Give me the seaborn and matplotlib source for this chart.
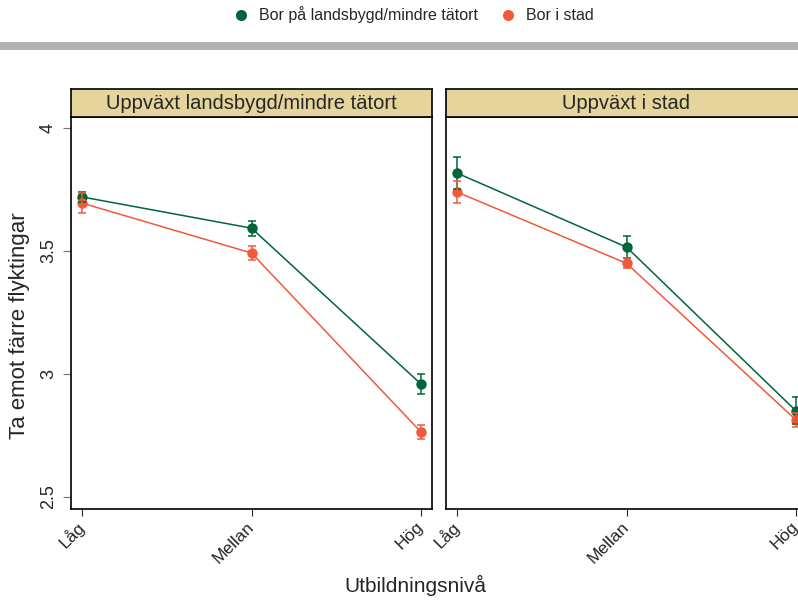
import matplotlib
matplotlib.use("Agg")
import matplotlib.pyplot as plt
import seaborn as sns
import pandas as pd
from matplotlib.patches import Rectangle
from matplotlib.lines import Line2D

# data
levels = ["Låg", "Mellan", "Hög"]
panels = ["Uppväxt landsbygd/mindre tätort", "Uppväxt i stad"]
groups = ["Bor på landsbygd/mindre tätort", "Bor i stad"]

rural_rural = [3.72, 3.593, 2.959]
rural_rural_err = [0.02, 0.03, 0.04]
rural_city = [3.695, 3.492, 2.764]
rural_city_err = [0.04, 0.03, 0.03]
city_rural = [3.817, 3.516, 2.85]
city_rural_err = [0.065, 0.045, 0.055]
city_city = [3.74, 3.45, 2.813]
city_city_err = [0.045, 0.02, 0.03]

colors = {"Bor på landsbygd/mindre tätort": "#00663a", "Bor i stad": "#f05a3a"}

rows = []
for panel, series in zip(panels, [[(rural_rural, rural_rural_err), (rural_city, rural_city_err)],
                                  [(city_rural, city_rural_err), (city_city, city_city_err)]]):
    for grp, (vals, errs) in zip(groups, series):
        for i, (lv, v, e) in enumerate(zip(levels, vals, errs)):
            rows.append({"panel": panel, "group": grp, "level": lv, "pos": i, "value": v, "err": e})
df = pd.DataFrame(rows)

sns.set_style("white")
plt.rcParams["font.family"] = ["Liberation Sans", "DejaVu Sans"]
narrow = ["Liberation Sans Narrow", "Liberation Sans", "DejaVu Sans"]

fig = plt.figure(figsize=(7.98, 6.0), dpi=100)
W, H = 798, 600

def fx(px):
    return px / W

def fy(py):
    return 1 - py / H

ax_w = fx(361)
ax_bottom = fy(509)
ax_h = (509 - 117) / H
lefts = [fx(71), fx(446)]

for k, panel in enumerate(panels):
    ax = fig.add_axes([lefts[k], ax_bottom, ax_w, ax_h])
    sub = df[df.panel == panel]
    sns.lineplot(data=sub, x="pos", y="value", hue="group", hue_order=groups,
                 palette=colors, marker="o", markersize=7.5, markeredgewidth=0,
                 linewidth=1.1, ax=ax, legend=False, errorbar=None)
    for grp in groups:
        g = sub[sub.group == grp]
        ax.errorbar(g.pos, g.value, yerr=g.err, fmt="none", ecolor=colors[grp],
                    elinewidth=1.1, capsize=3, capthick=1.1, zorder=3)
    ax.set_xlim(-0.065, 2.065)
    ax.set_ylim(2.451, 4.045)
    ax.set_xticks(range(len(levels)))
    ax.set_xticklabels(levels, rotation=45, ha="right", va="center",
                       rotation_mode="anchor", fontsize=12.5)
    ax.set_yticks([2.5, 3, 3.5, 4])
    if k == 0:
        ax.set_yticklabels(["2.5", "3", "3.5", "4"], rotation=90, va="center", fontsize=13)
        ax.tick_params(axis="y", length=6, color="#777777", left=True, direction="out", pad=4)
        ax.set_ylabel("Ta emot färre flyktingar", fontsize=16)
        ax.yaxis.set_label_coords(-0.114, 0.467)
    else:
        ax.set_yticklabels([])
        ax.tick_params(axis="y", left=False)
        ax.set_ylabel("")
    ax.tick_params(axis="x", length=5, bottom=True, direction="out", pad=6)
    ax.set_xlabel("")
    for s in ax.spines.values():
        s.set_color("black")
        s.set_linewidth(1.2)

    # facet strip
    sax = fig.add_axes([lefts[k], fy(117), ax_w, 28 / H])
    sax.set_facecolor("#e5d59d")
    sax.set_xticks([])
    sax.set_yticks([])
    for s in sax.spines.values():
        s.set_color("black")
        s.set_linewidth(1.2)
    sax.text(0.5, 0.48, panel, ha="center", va="center", fontsize=14.5, transform=sax.transAxes)

fig.text(0.52, fy(585), "Utbildningsnivå", ha="center", va="center", fontsize=15, family=narrow)

# grey rule under legend
fig.patches.append(Rectangle((0, fy(50)), 1, 8 / H, transform=fig.transFigure,
                             facecolor="#b3b3b6", edgecolor="none"))

handles = [Line2D([], [], marker="o", linestyle="none", markersize=8,
                  markerfacecolor=colors[g], markeredgewidth=0) for g in groups]
fig.legend(handles, groups, loc="center", bbox_to_anchor=(0.513, fy(15)), ncol=2,
           frameon=False, handletextpad=0.1, columnspacing=0.9,
           prop={"family": narrow, "size": 11.5})

fig.savefig("out.png", dpi=100)
